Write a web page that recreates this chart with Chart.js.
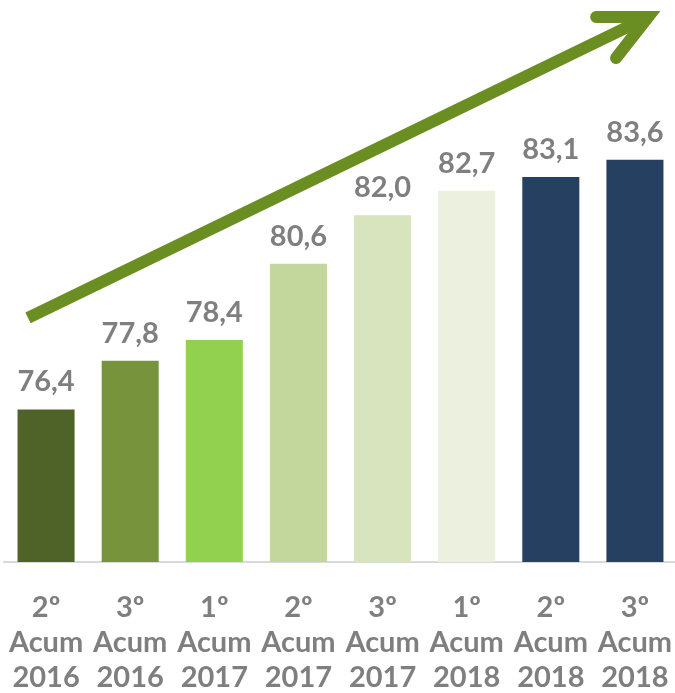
<!DOCTYPE html>
<html>
<head>
<meta charset="utf-8">
<script src="https://cdn.jsdelivr.net/npm/chart.js@4"></script>
<style>
html,body{margin:0;padding:0;background:#fff;overflow:hidden;}
#wrap{width:675px;height:693px;overflow:hidden;position:relative;}
#box{width:677px;height:693px;position:absolute;left:0;top:0;}
</style>
</head>
<body>
<div id="wrap"><div id="box"><canvas id="c"></canvas></div></div>
<script>
const quarters = ['2º','3º','1º','2º','3º','1º','2º','3º'];
const years = ['2016','2016','2017','2017','2017','2018','2018','2018'];
const values = [76.4, 77.8, 78.4, 80.6, 82.0, 82.7, 83.1, 83.6];
const barColors = ['#4F6228','#77933C','#92D050','#C3D69B','#D7E4BD','#EBF1DE','#254061','#254061'];
const labels = quarters.map((q,i)=>[q,'Acum',years[i]]);
// arrow annotation endpoints in data units (category index, value)
const arrowStart = {x:-0.215, y:79.04};
const arrowEnd = {x:7.157, y:87.71};

const TEXT = '#7F7F7F';
const FONT = 'Lato';

const valueLabels = {
  id:'valueLabels',
  afterDatasetsDraw(chart){
    const ctx = chart.ctx;
    const meta = chart.getDatasetMeta(0);
    ctx.save();
    ctx.font = 'bold 29px ' + FONT;
    ctx.fillStyle = TEXT;
    ctx.textAlign = 'center';
    ctx.textBaseline = 'alphabetic';
    meta.data.forEach((bar,i)=>{
      ctx.fillText(values[i].toFixed(1).replace('.',','), bar.x, bar.y - 18);
    });
    ctx.restore();
  }
};

const arrow = {
  id:'arrow',
  afterDatasetsDraw(chart){
    const xs = chart.scales.x, ys = chart.scales.y;
    const x1 = xs.getPixelForValue(arrowStart.x), y1 = ys.getPixelForValue(arrowStart.y);
    const x2 = xs.getPixelForValue(arrowEnd.x), y2 = ys.getPixelForValue(arrowEnd.y);
    const ctx = chart.ctx;
    const ang = Math.atan2(y1-y2, x1-x2);
    const len = 52, spread = 26*Math.PI/180;
    ctx.save();
    ctx.strokeStyle = '#6B8E23';
    ctx.lineWidth = 12;
    ctx.lineCap = 'butt';
    ctx.beginPath();
    ctx.moveTo(x1,y1);
    ctx.lineTo(x2 + Math.cos(ang)*6, y2 + Math.sin(ang)*6);
    ctx.stroke();
    ctx.lineCap = 'round';
    ctx.lineJoin = 'miter';
    ctx.miterLimit = 10;
    ctx.beginPath();
    ctx.moveTo(x2 + Math.cos(ang-spread)*len, y2 + Math.sin(ang-spread)*len);
    ctx.lineTo(x2, y2);
    ctx.lineTo(x2 + Math.cos(ang+spread)*len, y2 + Math.sin(ang+spread)*len);
    ctx.stroke();
    ctx.restore();
  }
};

new Chart(document.getElementById('c'), {
  type:'bar',
  data:{
    labels: labels,
    datasets:[{
      data: values,
      backgroundColor: barColors,
      borderWidth: 0,
      barPercentage: 0.678,
      categoryPercentage: 1
    }]
  },
  options:{
    responsive:true,
    maintainAspectRatio:false,
    animation:false,
    events:[],
    layout:{padding:{top:7,left:4,right:0,bottom:0}},
    plugins:{legend:{display:false},tooltip:{enabled:false}},
    scales:{
      x:{
        grid:{display:false},
        border:{display:true,color:'#D9D9D9',width:2},
        afterFit(scale){ scale.height = 131; scale.paddingLeft = 0; scale.paddingRight = 0; },
        ticks:{
          color:TEXT,
          padding:20,
          maxRotation:0,
          autoSkip:false,
          font:{family:FONT,size:29,weight:'bold',lineHeight:1.21}
        }
      },
      y:{
        display:false,
        min:72,
        max:88
      }
    }
  },
  plugins:[valueLabels, arrow]
});
</script>
</body>
</html>
